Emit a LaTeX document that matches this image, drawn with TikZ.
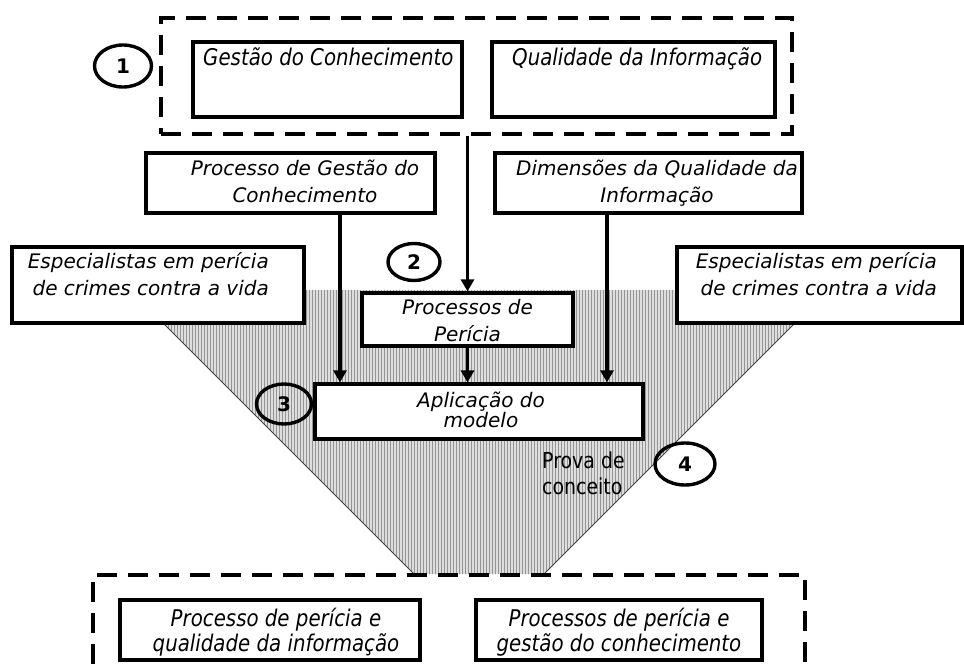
\documentclass[tikz,border=0pt]{standalone}
\usepackage{fontspec}
\setmainfont{DejaVu Sans}
\newfontfamily\condf[FakeStretch=0.86]{DejaVu Sans}
\usetikzlibrary{arrows.meta,patterns.meta,shapes.geometric}
\tikzset{
  box/.style={draw, line width=3.2pt, fill=white, inner sep=0pt},
  dbox/.style={draw, line width=3.2pt, dash pattern=on 20pt off 11pt, inner sep=0pt},
  numc/.style={ellipse, draw, line width=3.4pt, inner sep=0pt, font=\bfseries\fontsize{20}{20}\selectfont},
  arr/.style={line width=3.2pt, -{Triangle[width=13pt,length=12pt]}},
  itxt/.style={inner sep=0pt, font=\itshape\fontsize{20}{27}\selectfont},
  ctxt/.style={inner sep=0pt, font=\condf\itshape\fontsize{23}{25}\selectfont},
}
\begin{document}
\begin{tikzpicture}[x=1pt,y=-1pt]
\useasboundingbox (0,0) rectangle (964,671);
\clip (0,0) rectangle (964,671);
% hatched funnel
\fill[gray!26] (130,290) -- (828,290) -- (544,574) -- (414,574) -- cycle;
\fill[pattern={Lines[angle=90,distance=3pt,line width=1pt]}, pattern color=black!42] (130,290) -- (828,290) -- (544,574) -- (414,574) -- cycle;
\draw[line width=0.8pt, black!75] (130,290) -- (414,574) (828,290) -- (544,574);
% bottom dashed frame
\node[dbox, minimum width=712pt, minimum height=150pt] (bot) at (449,650) {};
% top dashed frame
\node[dbox, minimum width=631pt, minimum height=116pt] (top) at (476.5,76) {};
\node[box, minimum width=269pt, minimum height=75pt] (gk) at (327.5,79.5) {};
\node[box, minimum width=283pt, minimum height=75pt] (qi) at (633.5,79.5) {};
\node[ctxt, anchor=base west] (gkt) at (203,66) {Gestão do Conhecimento};
\node[ctxt, anchor=base west] (qit) at (512,66) {Qualidade da Informação};
\node[numc, minimum width=57pt, minimum height=42pt] (c1) at (123,66) {1};
% second row
\node[box, minimum width=289pt, minimum height=60pt] (pgc) at (290.5,183) {};
\node[itxt, anchor=base, align=center] (pgct) at (305,203) {Processo de Gestão do\\Conhecimento};
\node[box, minimum width=307pt, minimum height=60pt] (dqi) at (648.5,183) {};
\node[itxt, anchor=base, align=center] (dqit) at (657,203) {Dimensões da Qualidade da\\Informação};
% specialists
\node[box, minimum width=292pt, minimum height=76pt] (espl) at (158,285) {};
\node[itxt, anchor=base east, align=right] (esplt) at (269,295) {Especialistas em perícia\\de crimes contra a vida};
\node[box, minimum width=285pt, minimum height=76pt] (espr) at (819.5,285) {};
\node[itxt, anchor=base east, align=right] (esprt) at (937,295) {Especialistas em perícia\\de crimes contra a vida};
\node[numc, minimum width=52pt, minimum height=37pt] (c2) at (414,262) {2};
% processes
\node[box, minimum width=211pt, minimum height=53pt] (proc) at (467.5,319.5) {};
\node[itxt, anchor=base, align=center] (proct) at (467.5,341) {Processos de\\Perícia};
\node[box, minimum width=328pt, minimum height=55pt] (apl) at (479,411.5) {};
\node[itxt, anchor=base, align=center, font=\itshape\fontsize{20}{19.5}\selectfont] (aplt) at (481,427) {Aplicação do\\modelo};
\node[numc, minimum width=55pt, minimum height=40pt] (c3) at (284,404) {3};
\node[inner sep=0pt, anchor=base west, align=left, font=\condf\fontsize{22}{26}\selectfont] (prova) at (542,494) {Prova de\\conceito};
\node[numc, minimum width=60pt, minimum height=42pt] (c4) at (685,464) {4};
% bottom boxes
\node[box, minimum width=300pt, minimum height=60pt] (lb) at (270,630) {};
\node[ctxt, anchor=base, align=center] (lbt) at (276,651) {Processo de perícia e\\qualidade da informação};
\node[box, minimum width=286pt, minimum height=60pt] (rb) at (619,630) {};
\node[ctxt, anchor=base, align=center] (rbt) at (619,651) {Processos de perícia e\\gestão do conhecimento};
% arrows
\draw[arr] (top.south -| proc.north) -- (proc.north);
\draw[arr] ([xshift=49.5pt]pgc.south) -- ([xshift=49.5pt]pgc.south |- apl.north);
\draw[arr] ([xshift=-41.5pt]dqi.south) -- ([xshift=-41.5pt]dqi.south |- apl.north);
\draw[arr] (proc.south) -- (proc.south |- apl.north);
\end{tikzpicture}
\end{document}
